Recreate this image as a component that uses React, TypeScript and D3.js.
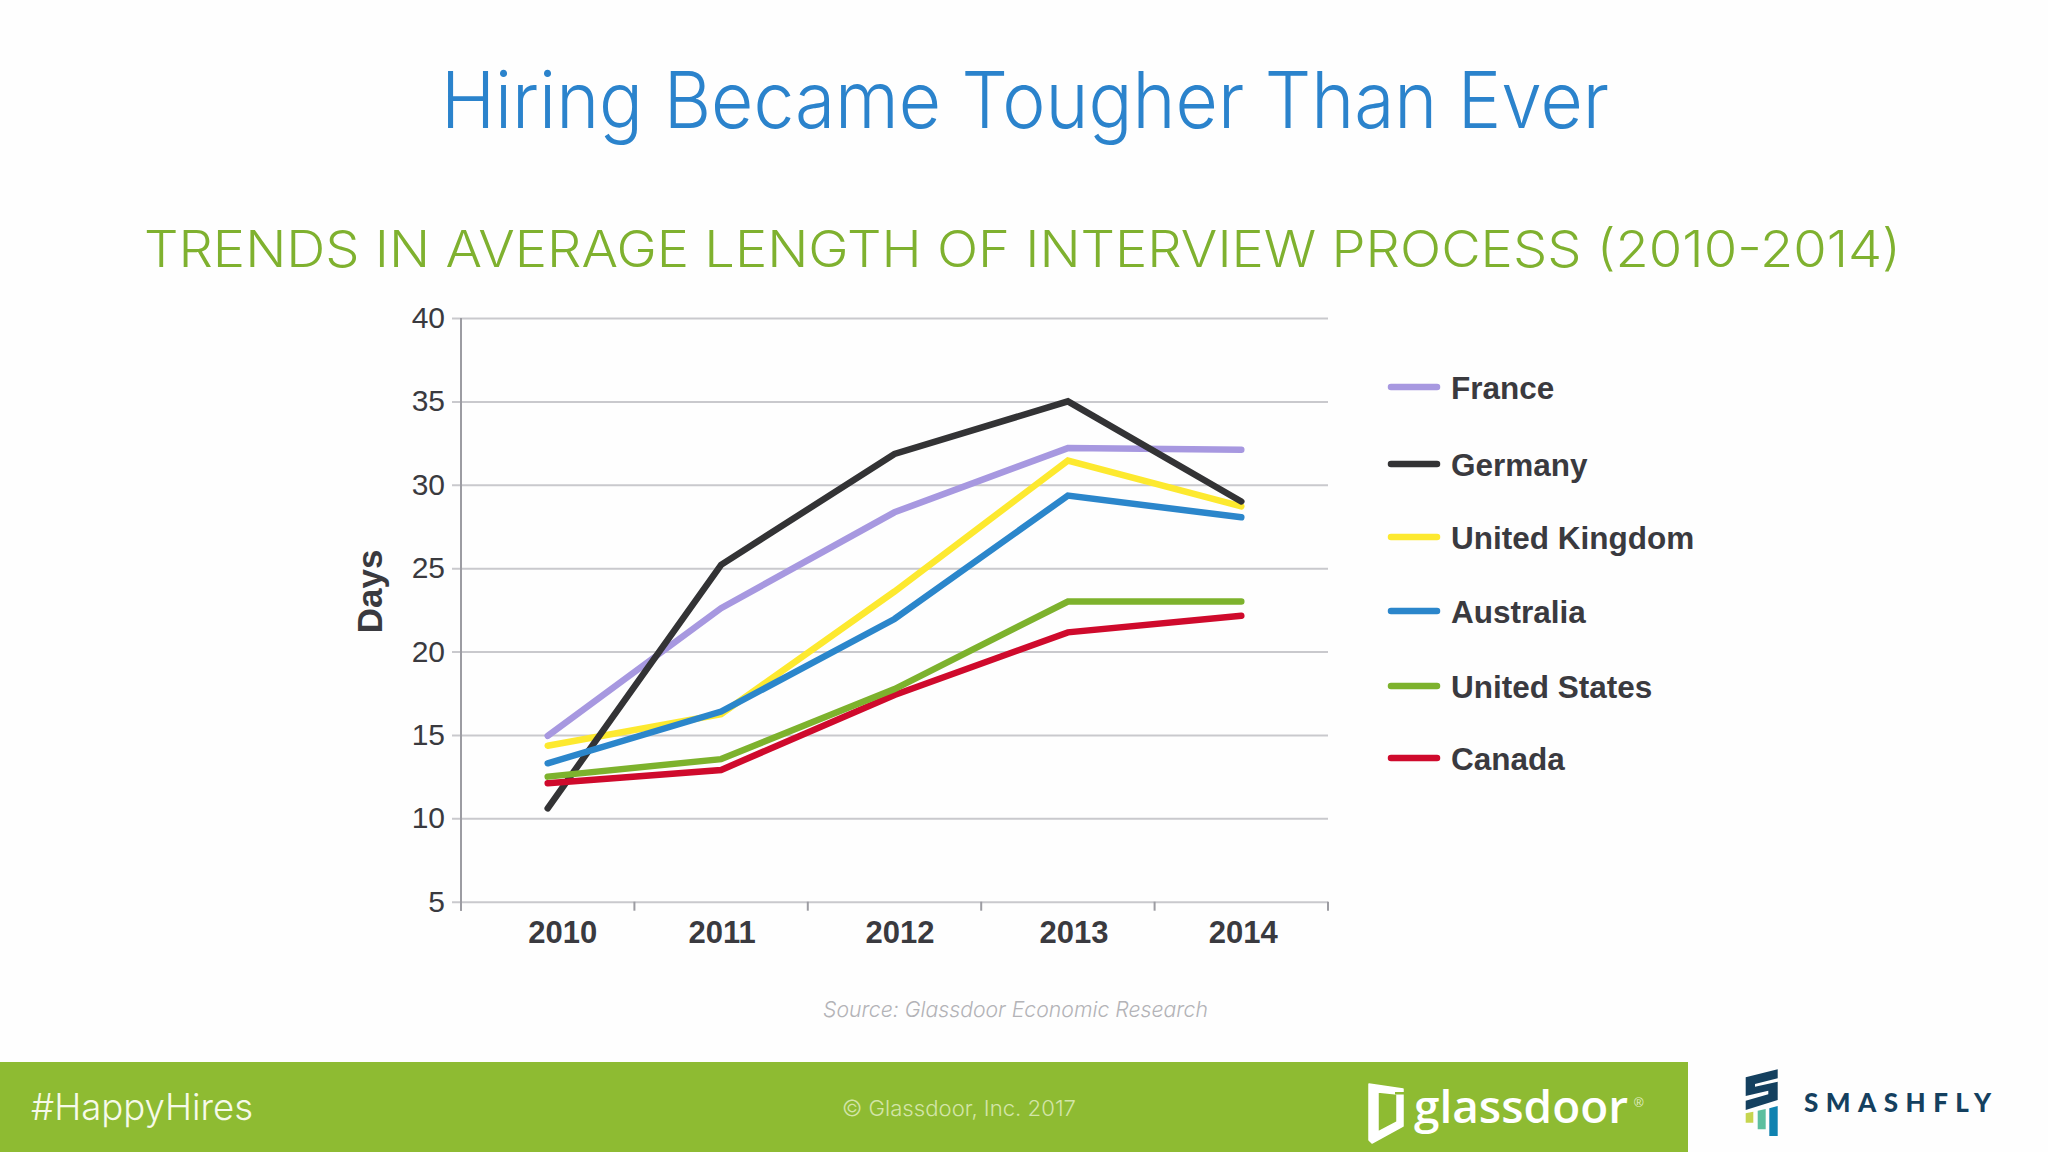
import * as React from 'react';
import * as d3 from 'd3';

const years = ['2010', '2011', '2012', '2013', '2014'];
const france = [14.95, 22.6, 28.35, 32.2, 32.1];
const germany = [10.6, 25.2, 31.85, 35, 29];
const unitedKingdom = [14.35, 16.25, 23.6, 31.45, 28.7];
const australia = [13.3, 16.4, 21.95, 29.35, 28.05];
const unitedStates = [12.5, 13.55, 17.75, 23, 23];
const canada = [12.1, 12.9, 17.4, 21.15, 22.15];
const yTicks = [5, 10, 15, 20, 25, 30, 35, 40];

const legendNames = ['France', 'Germany', 'United Kingdom', 'Australia', 'United States', 'Canada'];
const legendColors = ['#a798e0', '#333335', '#fde92f', '#2b86cb', '#7db22d', '#cf0a2c'];
const legendValues = [france, germany, unitedKingdom, australia, unitedStates, canada];

// layout
const lineOrder = [0, 2, 1, 5, 3, 4];
const legendRowY = [387, 464, 537, 611, 686, 758];
const yearLabelNudge = [15, 1, 5.5, 6, 2];

const width = 2048;
const height = 1152;
const plot = { left: 461, right: 1328, top: 318, bottom: 901.7 };
const textColor = '#3a3a3f';
const lightFont = 'Inter, "Liberation Sans", sans-serif';
const boldFont = '"Liberation Sans", Arial, sans-serif';

const x = d3.scaleBand<string>().domain(years).range([plot.left, plot.right]);
const y = d3.scaleLinear().domain([5, 40]).range([plot.bottom, plot.top]);
const bandCenter = (year: string) => (x(year) as number) + x.bandwidth() / 2;

const App: React.FunctionComponent = () => {
    const ref = React.useRef<SVGGElement>(null);

    React.useEffect(() => {
        if (!ref.current) {
            return;
        }
        const root = d3.select(ref.current);
        root.selectAll('*').remove();

        // horizontal grid, with a short stub left of the axis
        const yAxis = root.append('g')
            .attr('transform', `translate(${plot.left},0)`)
            .call(d3.axisLeft(y).tickValues(yTicks).tickSize(0).tickPadding(16));
        yAxis.select('.domain').remove();
        yAxis.selectAll('.tick line')
            .attr('x1', -9)
            .attr('x2', plot.right - plot.left)
            .attr('stroke', '#c9c9cd')
            .attr('stroke-width', 2);
        yAxis.selectAll('.tick text')
            .attr('font-family', boldFont)
            .attr('font-size', 30)
            .attr('fill', textColor);

        root.append('line')
            .attr('x1', plot.left).attr('x2', plot.left)
            .attr('y1', plot.top).attr('y2', plot.bottom + 9)
            .attr('stroke', '#9c9ca2').attr('stroke-width', 2);

        // year ticks sit on the band edges, the labels are nudged off centre
        const xEdges = [...years.map((d) => x(d) as number), plot.right];
        root.append('g').selectAll('line')
            .data(xEdges)
            .join('line')
            .attr('x1', (d) => d).attr('x2', (d) => d)
            .attr('y1', plot.bottom).attr('y2', plot.bottom + 9)
            .attr('stroke', '#9c9ca2').attr('stroke-width', 2);
        root.append('g').selectAll('text')
            .data(years)
            .join('text')
            .attr('x', (d, i) => bandCenter(d) + yearLabelNudge[i])
            .attr('y', 943)
            .attr('text-anchor', 'middle')
            .attr('font-family', boldFont)
            .attr('font-weight', 700)
            .attr('font-size', 31)
            .attr('fill', textColor)
            .text((d) => d);

        const line = d3.line<number>()
            .x((d, i) => bandCenter(years[i]))
            .y((d) => y(d));
        root.append('g').selectAll('path')
            .data(lineOrder)
            .join('path')
            .attr('d', (s) => line(legendValues[s]))
            .attr('fill', 'none')
            .attr('stroke', (s) => legendColors[s])
            .attr('stroke-width', 6.5)
            .attr('stroke-linecap', 'round')
            .attr('stroke-linejoin', 'miter');

        const rows = root.append('g').selectAll('g')
            .data(legendNames)
            .join('g')
            .attr('transform', (d, i) => `translate(0,${legendRowY[i]})`);
        rows.append('line')
            .attr('x1', 1391).attr('x2', 1437)
            .attr('stroke', (d, i) => legendColors[i])
            .attr('stroke-width', 6.5)
            .attr('stroke-linecap', 'round');
        rows.append('text')
            .attr('x', 1451)
            .attr('y', 12)
            .attr('font-family', boldFont)
            .attr('font-weight', 700)
            .attr('font-size', 31.5)
            .attr('fill', textColor)
            .text((d) => d);
    });

    return (
        <svg width={width} height={height} viewBox={`0 0 ${width} ${height}`}
            style={{ position: 'absolute', left: 0, top: 0, display: 'block' }}>
            <rect width={width} height={height} fill="#fefefe" />
            <text x={441} y={128} textLength={1168} lengthAdjust="spacingAndGlyphs" fontFamily={lightFont}
                fontWeight={300} fontSize={78} fill="#2b83cc">Hiring Became Tougher Than Ever</text>
            <text x={144} y={267} textLength={1757} lengthAdjust="spacingAndGlyphs" fontFamily={lightFont}
                fontWeight={300} fontSize={50} fill="#7fb12f">TRENDS IN AVERAGE LENGTH OF INTERVIEW PROCESS (2010-2014)</text>

            <g ref={ref} />
            <text transform="translate(382,591.5) rotate(-90)" textAnchor="middle" fontFamily={boldFont}
                fontWeight={700} fontSize={35} fill={textColor}>Days</text>
            <text x={823} y={1017} textLength={385} lengthAdjust="spacingAndGlyphs" fontFamily={lightFont}
                fontWeight={300} fontStyle="italic" fontSize={22} fill="#b3b3b7">Source: Glassdoor Economic Research</text>

            <rect x={0} y={1062} width={1688} height={90} fill="#8ebb32" />
            <text x={31} y={1120} textLength={222} lengthAdjust="spacingAndGlyphs" fontFamily={lightFont}
                fontWeight={300} fontSize={37} fill="#f6fae9">#HappyHires</text>
            <text x={842} y={1116} textLength={234} lengthAdjust="spacingAndGlyphs" fontFamily={lightFont}
                fontWeight={300} fontSize={22} fill="#d3e5a8">© Glassdoor, Inc. 2017</text>

            {/* glassdoor mark */}
            <path fill="#ffffff" fillRule="evenodd" strokeLinejoin="round" stroke="#ffffff" strokeWidth={1.5}
                d="M1369 1084L1403 1089L1403 1126L1372 1143L1369 1140ZM1378 1092L1378 1132L1397 1122L1397 1094Z" />
            <rect x={1395} y={1092} width={9} height={2.5} fill="#8ebb32" />
            <text x={1414} y={1123} textLength={214} lengthAdjust="spacingAndGlyphs" fontFamily={'"Open Sans", sans-serif'}
                fontWeight={600} fontSize={46} fill="#ffffff">glassdoor</text>
            <text x={1634} y={1107} fontFamily={boldFont} fontSize={13} fill="#e4efc8">®</text>

            {/* smashfly mark */}
            <path fill="#14405f" d="M1745.7 1077.3L1777.7 1069.3L1777.7 1078.3L1755 1084L1755 1086.7L1777.7 1081.7L1777.7 1100L1745.7 1110L1745.7 1100.7L1768.3 1094.3L1768.3 1090.7L1745.7 1096Z" />
            <path fill="#c6d54f" d="M1745.7 1113.3L1753.3 1111.7L1753.3 1122.7L1745.7 1122.7Z" />
            <path fill="#5cbf9f" d="M1757.7 1110.7L1765.7 1109L1765.7 1129.3L1757.7 1129.3Z" />
            <path fill="#0f82b0" d="M1769.3 1108.3L1777.7 1106L1777.7 1136L1769.3 1136Z" />
            <text x={1804} y={1112} textLength={187} fontFamily={'Lato, sans-serif'} fontWeight={900}
                fontSize={26} fill="#14405f">SMASHFLY</text>
        </svg>
    );
};

export default App;
